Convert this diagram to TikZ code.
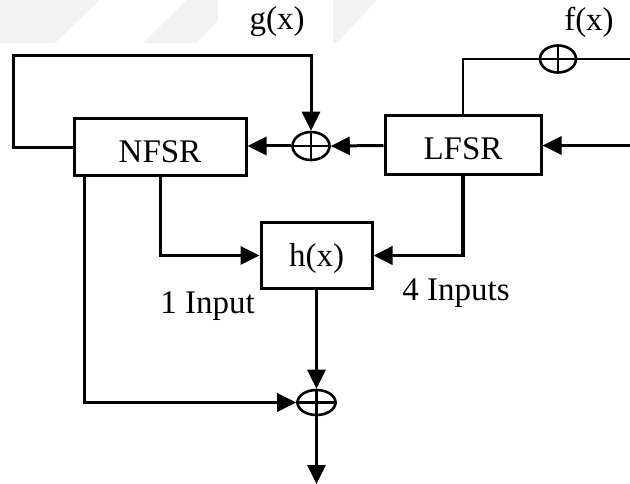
\documentclass[tikz,border=0pt]{standalone}
\usepackage{fontspec}
\setmainfont{Liberation Serif}
\usetikzlibrary{arrows.meta,shapes.geometric}
\begin{document}
\begin{tikzpicture}[x=1pt,y=-1pt,
  line width=3pt,
  blk/.style={draw,rectangle,line width=3pt,inner sep=0pt,font=\fontsize{33}{40}\selectfont},
  xr/.style={draw,ellipse,line width=2.6pt,inner sep=0pt},
  lbl/.style={font=\fontsize{33}{40}\selectfont,inner sep=0pt,anchor=base},
  arr/.style={-{Triangle[length=19pt,width=18pt]}},
  crs/.style={line width=2.2pt},
  wm/.style={fill=black!5,draw=none}]
\useasboundingbox (0,0) rectangle (630,484);
% faint watermark stripes
\fill[wm] (0,0) -- (100,0) -- (55,43) -- (0,43) -- cycle;
\fill[wm] (187,0) -- (218,0) -- (218,20) -- (197,43) -- (143,43) -- cycle;
\fill[wm] (333,0) -- (377,0) -- (337,43) -- (333,43) -- cycle;
% blocks
\node[blk,minimum width=172pt,minimum height=57pt,text height=31pt,text depth=0pt] (N) at (160,147.5) {NFSR};
\node[blk,minimum width=156pt,minimum height=59pt,text height=29pt,text depth=0pt] (L) at (463,145.5) {LFSR};
\node[blk,minimum width=111pt,minimum height=65pt,text height=30pt,text depth=7pt] (H) at (316.5,255.5) {h(x)};
% xor nodes
\node[xr,minimum width=37pt,minimum height=28pt] (gx) at (311,146) {};
\node[xr,minimum width=36pt,minimum height=27pt] (fx) at (558,59) {};
\node[xr,minimum width=38pt,minimum height=25pt] (xo) at (316.5,402.5) {};
% labels
\node[lbl] (gl) at (277,30) {g(x)};
\node[lbl] (fl) at (589,31) {f(x)};
\node[lbl] (il) at (207.5,313) {1 Input};
\node[lbl] (ml) at (456,300) {4 Inputs};
% free ends
\coordinate (in) at (630,145.5);
\coordinate (fend) at (630,59);
\coordinate (out) at (316.5,484);
% connectors
\draw[arr] (N.west) -| (13,56) -| (gx.north);
\draw[arr] (L.west) -- (gx.east);
\draw[arr] (gx.west) -- (gx.west -| N.east);
\draw[arr] (in) -- (L.east);
\draw[line width=2.5pt] (L.north) |- (fend);
\draw[arr] (N.south -| 84,0) |- (xo.west);
\draw[arr] (N.south -| 160,0) |- (H.west);
\draw[arr,line width=3.6pt] (L.south) |- (H.east);
\draw[arr] (H.south) -- (xo.north);
\draw[arr] (xo.south) -- (out);
% xor crosses
\draw[crs] (gx.north) -- (gx.south) (gx.west) -- (gx.east);
\draw[crs] (fx.north) -- (fx.south) (fx.west) -- (fx.east);
\draw[crs] (xo.north) -- (xo.south) (xo.west) -- (xo.east);
\end{tikzpicture}
\end{document}
